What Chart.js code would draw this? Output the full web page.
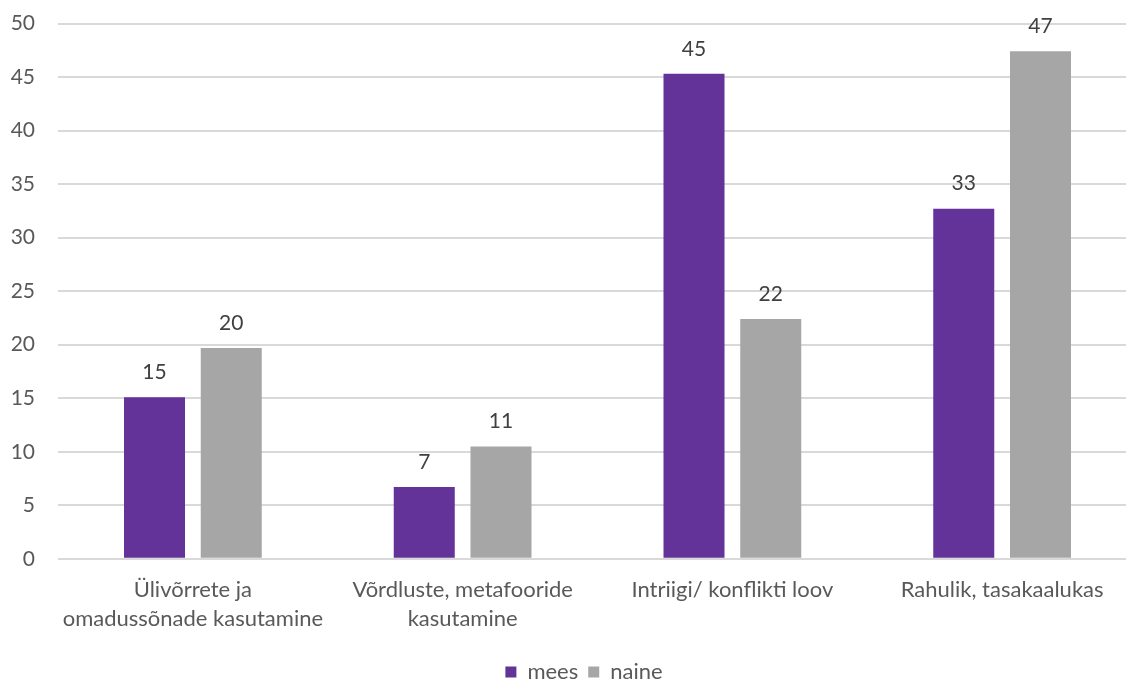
<!DOCTYPE html>
<html>
<head>
<meta charset="utf-8">
<script src="https://cdn.jsdelivr.net/npm/chart.js@4/dist/chart.umd.min.js"></script>
<style>
  html, body { margin: 0; padding: 0; background: #fff; overflow: hidden; }
  #wrap { width: 1137px; height: 679px; }
</style>
</head>
<body>
<div id="wrap"><canvas id="chart"></canvas></div>
<script>
// andmed
const categories = [
    ['Ülivõrrete ja', 'omadussõnade kasutamine'],
    ['Võrdluste, metafooride', 'kasutamine'],
    'Intriigi/ konflikti loov',
    'Rahulik, tasakaalukas'
];
const meesValues = [15.1, 6.7, 45.3, 32.7];
const naineValues = [19.7, 10.5, 22.4, 47.4];
const yTicks = [0, 5, 10, 15, 20, 25, 30, 35, 40, 45, 50];

const FONT = 'Lato, "Open Sans", sans-serif';

// väärtuste sildid tulpade kohal
const barLabels = {
    id: 'barLabels',
    afterDatasetsDraw(chart) {
        const ctx = chart.ctx;
        ctx.save();
        ctx.font = '21px ' + FONT;
        ctx.fillStyle = '#404040';
        ctx.textAlign = 'center';
        ctx.textBaseline = 'middle';
        chart.data.datasets.forEach((ds, i) => {
            chart.getDatasetMeta(i).data.forEach((bar, j) => {
                ctx.fillText(Math.round(ds.data[j]), bar.x, bar.y - 25);
            });
        });
        ctx.restore();
    }
};

// legendi nihutamine (Exceli paigutus)
const legendShift = {
    id: 'legendShift',
    afterLayout(chart) {
        const lg = chart.legend;
        if (!lg) return;
        lg.left += 10.5;
        lg.right += 10.5;
        lg.top += 18.5;
        lg.bottom += 18.5;
    }
};

new Chart(document.getElementById('chart'), {
    type: 'bar',
    data: {
        labels: categories,
        datasets: [
            { label: 'mees', data: meesValues, backgroundColor: '#633399', borderWidth: 0 },
            { label: 'naine', data: naineValues, backgroundColor: '#A6A6A6', borderWidth: 0 }
        ]
    },
    options: {
        responsive: true,
        maintainAspectRatio: false,
        animation: false,
        layout: { padding: { left: 10, top: 23.5, right: 0, bottom: 4.5 } },
        categoryPercentage: 0.569,
        barPercentage: 0.795,
        plugins: {
            legend: {
                position: 'bottom',
                labels: {
                    boxWidth: 11,
                    boxHeight: 11,
                    padding: 10,
                    color: '#595959',
                    font: { family: FONT, size: 22 }
                }
            },
            tooltip: { enabled: false }
        },
        scales: {
            y: {
                min: 0,
                max: 50,
                afterFit(scale) { scale.width = 48; },
                afterBuildTicks(scale) { scale.ticks = yTicks.map(v => ({ value: v })); },
                border: { display: false },
                grid: { color: '#D9D9D9', lineWidth: 2, drawTicks: true, tickLength: 23, tickColor: 'rgba(0,0,0,0)' },
                ticks: { padding: 0, color: '#595959', font: { family: FONT, size: 21 } }
            },
            x: {
                afterFit(scale) { scale.height -= 17.5; },
                border: { display: false },
                grid: { display: false, drawTicks: false },
                ticks: {
                    padding: 17,
                    color: '#595959',
                    maxRotation: 0,
                    autoSkip: false,
                    font: { family: FONT, size: 22, lineHeight: 1.3 }
                }
            }
        }
    },
    plugins: [barLabels, legendShift]
});
</script>
</body>
</html>
